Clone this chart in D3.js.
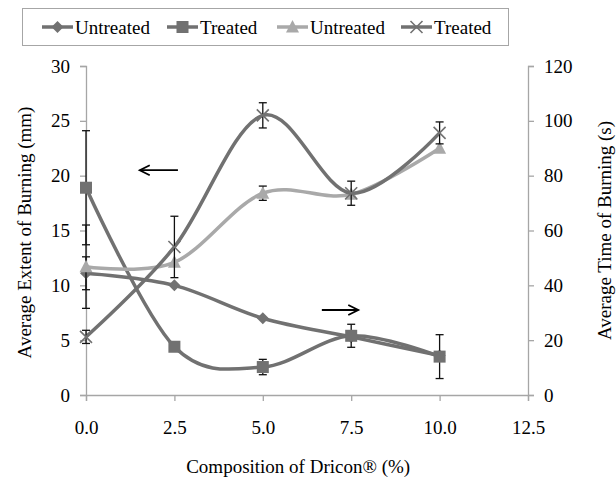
<!DOCTYPE html>
<html>
<head>
<meta charset="utf-8">
<script src="https://cdn.jsdelivr.net/npm/d3@7"></script>
</head>
<body style="margin:0;background:#fff">
<div id="chart"></div>
<script>
// Data
const composition = [0, 2.5, 5, 7.5, 10];
const xTicks = [0, 2.5, 5, 7.5, 10, 12.5];
const leftTicks = [0, 5, 10, 15, 20, 25, 30];
const rightTicks = [0, 20, 40, 60, 80, 100, 120];

// primary axis (mm)
const untreatedExtent = [11.1, 10.0, 7.0, 5.3, 3.6];
const untreatedExtentErr = [1.5, 0, 0, 0, 0];
const treatedExtent = [18.9, 4.4, 2.55, 5.4, 3.5];
const treatedExtentErr = [5.2, 0, 0.7, 1.05, 2.0];

// secondary axis (s)
const untreatedTime = [46.8, 48.4, 73.6, 73.2, 90.0];
const untreatedTimeErr = [15.2, 0, 2.6, 0, 0];
const treatedTime = [21.2, 54.0, 102, 73.6, 95.6];
const treatedTimeErr = [2.4, 11.2, 4.6, 4.4, 4.0];

const width = 616, height = 479;
const margin = { top: 66, right: 88, bottom: 84, left: 86 };
const innerW = width - margin.left - margin.right;
const innerH = height - margin.top - margin.bottom;

const dark = "#717171", light = "#a9a9a9", axisCol = "#a6a6a6";
const serif = '"Liberation Serif", serif';

const svg = d3.select("#chart").append("svg")
  .attr("width", width).attr("height", height);

const g = svg.append("g").attr("transform", `translate(${margin.left},${margin.top})`);

const x = d3.scaleLinear().domain([0, 12.5]).range([0, innerW]);
const yL = d3.scaleLinear().domain([0, 30]).range([innerH, 0]);
const yR = d3.scaleLinear().domain([0, 120]).range([innerH, 0]);

// axes
function styleAxis(sel) {
  sel.attr("font-family", null).attr("font-size", null);
  sel.select(".domain").attr("stroke", axisCol).attr("stroke-width", 1.3);
  sel.selectAll(".tick line").attr("stroke", axisCol).attr("stroke-width", 1.3);
  sel.selectAll(".tick text")
    .style("font-family", serif).style("font-size", "19px").attr("fill", "#000");
}

g.append("g").attr("transform", `translate(0,${innerH})`)
  .call(d3.axisBottom(x).tickValues(xTicks).tickFormat(d3.format(".1f")).tickSizeOuter(0).tickSize(6).tickPadding(20))
  .call(styleAxis);

g.append("g")
  .call(d3.axisLeft(yL).tickValues(leftTicks).tickSizeOuter(0).tickSize(6).tickPadding(10))
  .call(styleAxis);

g.append("g").attr("transform", `translate(${innerW},0)`)
  .call(d3.axisRight(yR).tickValues(rightTicks).tickSizeOuter(0).tickSize(6).tickPadding(10))
  .call(styleAxis);

// axis titles
svg.append("text")
  .attr("transform", `translate(24,${margin.top + innerH / 2 + 2}) rotate(-90)`)
  .attr("text-anchor", "middle").attr("dominant-baseline", "central")
  .style("font-family", serif).style("font-size", "19px")
  .text("Average Extent of Burning (mm)");

svg.append("text")
  .attr("transform", `translate(604,${margin.top + innerH / 2}) rotate(-90)`)
  .attr("text-anchor", "middle").attr("dominant-baseline", "central")
  .style("font-family", serif).style("font-size", "19px")
  .text("Average Time of Burning (s)");

svg.append("text")
  .attr("x", margin.left + x(6.0)).attr("y", 473)
  .attr("text-anchor", "middle")
  .style("font-family", serif).style("font-size", "19px")
  .text("Composition of Dricon® (%)");

// series
const series = [
  { name: "Untreated", vals: untreatedExtent, err: untreatedExtentErr, y: yL, color: dark, marker: "diamond" },
  { name: "Treated", vals: treatedExtent, err: treatedExtentErr, y: yL, color: dark, marker: "square" },
  { name: "Untreated", vals: untreatedTime, err: untreatedTimeErr, y: yR, color: light, marker: "triangle" },
  { name: "Treated", vals: treatedTime, err: treatedTimeErr, y: yR, color: dark, marker: "cross" }
];

function drawMarker(sel, type, color) {
  if (type === "diamond") {
    sel.append("path").attr("d", "M0,-6L6,0L0,6L-6,0Z").attr("fill", color);
  } else if (type === "square") {
    sel.append("rect").attr("x", -6).attr("y", -6).attr("width", 12).attr("height", 12).attr("fill", color);
  } else if (type === "triangle") {
    sel.append("path").attr("d", "M0,-7L6.5,5.5L-6.5,5.5Z").attr("fill", color);
  } else {
    sel.append("path").attr("d", "M-6,-6L6,6M-6,6L6,-6").attr("stroke", color).attr("stroke-width", 1.6).attr("fill", "none");
  }
}

const line = d3.line().curve(d3.curveCatmullRom.alpha(0));

series.forEach(s => {
  const pts = composition.map((c, i) => [x(c), s.y(s.vals[i])]);
  g.append("path")
    .attr("d", line(pts))
    .attr("fill", "none")
    .attr("stroke", s.color)
    .attr("stroke-width", 3.5);

  // error bars
  composition.forEach((c, i) => {
    if (!s.err[i]) return;
    const cx = x(c), y1 = s.y(s.vals[i] + s.err[i]), y2 = s.y(s.vals[i] - s.err[i]);
    const eb = g.append("g").attr("stroke", "#111").attr("stroke-width", 1.3);
    eb.append("line").attr("x1", cx).attr("x2", cx).attr("y1", y1).attr("y2", y2);
    eb.append("line").attr("x1", cx - 4).attr("x2", cx + 4).attr("y1", y1).attr("y2", y1);
    eb.append("line").attr("x1", cx - 4).attr("x2", cx + 4).attr("y1", y2).attr("y2", y2);
  });

  composition.forEach((c, i) => {
    const m = g.append("g").attr("transform", `translate(${x(c)},${s.y(s.vals[i])})`);
    drawMarker(m, s.marker, s.color);
  });
});

// arrows pointing to the axes
function arrow(x1, x2, yv, dir) {
  const a = g.append("g").attr("stroke", "#000").attr("stroke-width", 1.8).attr("fill", "none");
  a.append("line").attr("x1", x(x1)).attr("x2", x(x2)).attr("y1", yL(yv)).attr("y2", yL(yv));
  const tip = dir < 0 ? x(x1) : x(x2);
  a.append("path").attr("d", `M${tip - dir * 10},${yL(yv) - 5}L${tip},${yL(yv)}L${tip - dir * 10},${yL(yv) + 5}`);
}
arrow(1.52, 2.6, 20.5, -1);
arrow(6.67, 7.7, 7.75, 1);

// legend
const legend = svg.append("g");
legend.append("rect").attr("x", 22.5).attr("y", 8.5).attr("width", 486).attr("height", 37)
  .attr("fill", "#fff").attr("stroke", "#a6a6a6").attr("stroke-width", 1);

const legendX = [42, 167, 277, 401];
series.forEach((s, i) => {
  const lg = legend.append("g").attr("transform", `translate(${legendX[i]},27)`);
  lg.append("line").attr("x1", 0).attr("x2", 31).attr("y1", 0).attr("y2", 0)
    .attr("stroke", s.color).attr("stroke-width", 3.5);
  drawMarker(lg.append("g").attr("transform", "translate(15.5,0)"), s.marker, s.color);
  lg.append("text").attr("x", 33).attr("y", 0).attr("dominant-baseline", "central")
    .style("font-family", serif).style("font-size", "19px").text(s.name);
});
</script>
</body>
</html>
